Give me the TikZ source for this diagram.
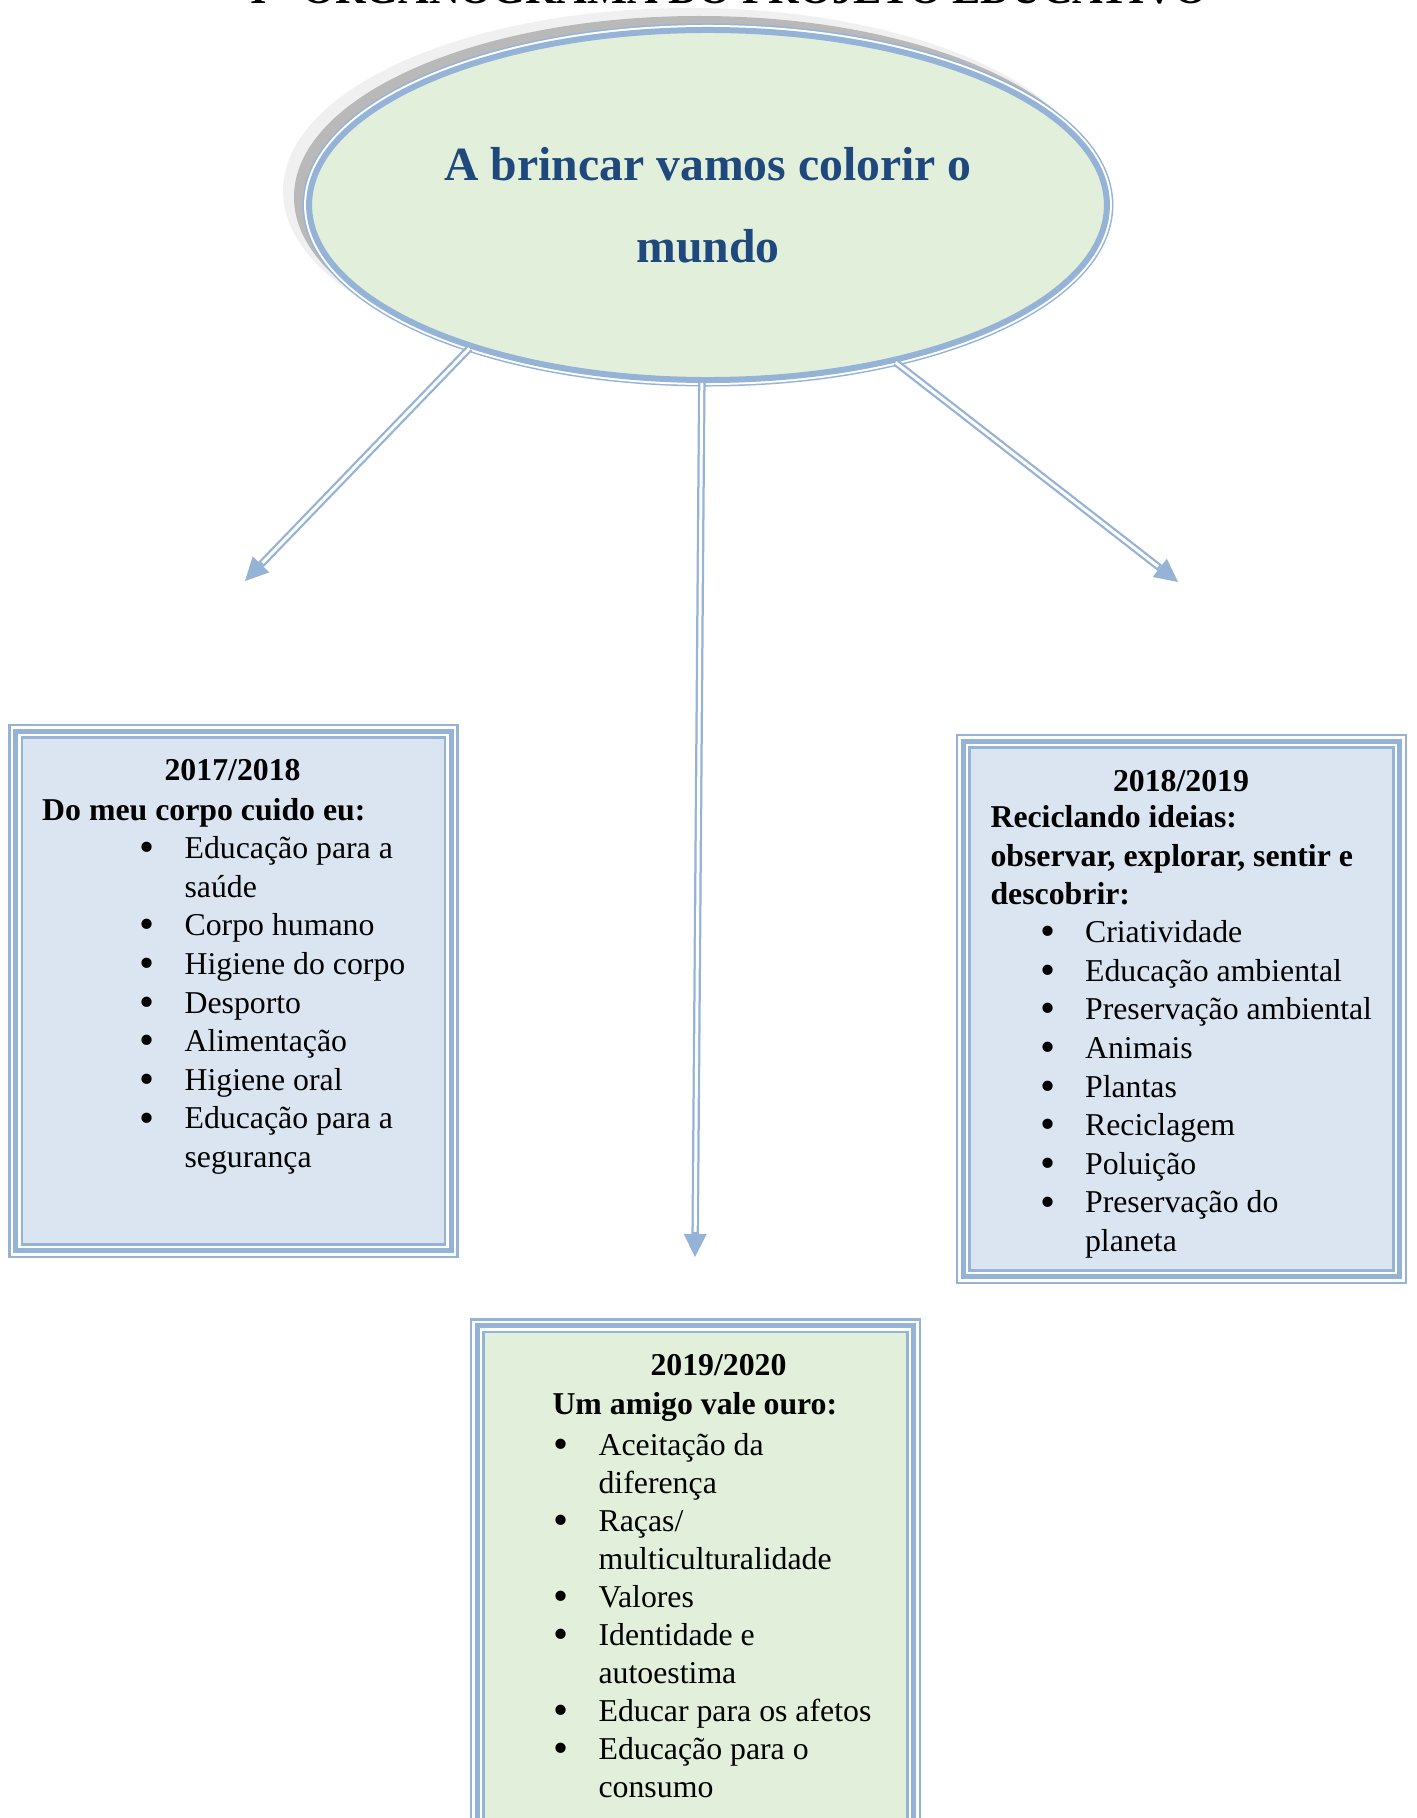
\documentclass[tikz,border=0pt]{standalone}
\usepackage{fontspec}
\setmainfont{Liberation Serif}
\usetikzlibrary{shapes,arrows.meta,positioning}
\definecolor{frameblue}{HTML}{95B3D7}
\definecolor{fillblue}{HTML}{DBE5F1}
\definecolor{fillgreen}{HTML}{E2EFDA}
\definecolor{titleblue}{HTML}{1F497D}
\newcommand{\itm}[1]{\makebox[17pt][l]{\smash{\raisebox{-1.2pt}{\scalebox{1.35}{\textbullet}}}}#1}
\newcommand{\cnt}{\hspace*{17pt}}

\begin{document}
\begin{tikzpicture}[x=0.3774pt, y=-0.3774pt,
  yearbox/.style={rectangle, inner sep=0pt, fill=#1, draw=frameblue, line width=5.66pt,
    postaction={draw=white, line width=3.77pt}, postaction={draw=frameblue, line width=1.89pt}},
  arr/.style={draw=frameblue, line width=2.83pt, -{Triangle[length=8.7pt, width=8.7pt, line width=0pt]},
    postaction={draw=white, line width=1.13pt, -, shorten >=9.5pt}},
  txt/.style={inner sep=0pt, font=\fontsize{12}{14.57}\selectfont, align=left, anchor=north west,
    execute at begin node=\strut}]
\tikzstyle{hd}=[inner sep=0pt, font=\fontsize{12}{14.57}\selectfont\bfseries, anchor=base]
\useasboundingbox (0,0) rectangle (1416,1818);
\clip (0,0) rectangle (1416,1818);

\node[font=\fontsize{16}{19}\selectfont\bfseries, anchor=base, inner sep=0pt] (titulo) at (729,4) {I - ORGANOGRAMA DO PROJETO EDUCATIVO};

\fill[gray!12] (690,191) ellipse [x radius=407, y radius=183];
\fill[gray!55] (699,197) ellipse [x radius=405, y radius=181];
\node[ellipse, minimum width=301.1pt, minimum height=132.1pt, fill=fillgreen, draw=frameblue, line width=2.26pt,
  preaction={draw=frameblue, line width=4.9pt}, preaction={draw=white, line width=3.77pt},
  text=titleblue, font=\fontsize{18}{30.9}\selectfont\bfseries, align=center] (ell) at (708,205)
  {A brincar vamos colorir o\\mundo};

\coordinate (cL) at (245,581);
\coordinate (cM) at (695,1257);
\coordinate (cR) at (1178,582);
\foreach \a/\c in {211.8/cL, 268.4/cM, 320/cR}{\draw[arr] (ell.\a) -- (\c);}

\node[yearbox=fillblue, minimum width=164.5pt, minimum height=195.9pt] (y1718) at (233.5,991) {};
\node[hd] (h1718) at (232.6,780) {2017/2018};
\node[txt, font=\fontsize{12}{14.57}\selectfont\bfseries] (t1718) at (41.7,793) {Do meu corpo cuido eu:};
\node[txt] (l1718) at (139,836) {\itm{Educação para a}\\\cnt saúde\\\itm{Corpo humano}\\\itm{Higiene do corpo}\\\itm{Desporto}\\\itm{Alimentação}\\\itm{Higiene oral}\\\itm{Educação para a}\\\cnt segurança};

\node[yearbox=fillblue, minimum width=164.7pt, minimum height=202.1pt] (y1819) at (1181.3,1008.8) {};
\node[hd] (h1819) at (1181,791) {2018/2019};
\node[txt, font=\fontsize{12}{14.57}\selectfont\bfseries] (t1819) at (990,805) {Reciclando ideias:\\observar, explorar, sentir e\\descobrir:};
\node[txt] (l1819) at (1039.5,920) {\itm{Criatividade}\\\itm{Educação ambiental}\\\itm{Preservação ambiental}\\\itm{Animais}\\\itm{Plantas}\\\itm{Reciclagem}\\\itm{Poluição}\\\itm{Preservação do}\\\cnt planeta};

\node[yearbox=fillgreen, minimum width=164.7pt, minimum height=190.4pt] (y1920) at (695.3,1577.8) {};
\node[hd] (h1920) at (718.5,1375.5) {2019/2020};
\node[txt, font=\fontsize{12}{14.57}\selectfont\bfseries] (t1920) at (552,1387) {Um amigo vale ouro:};
\node[txt, font=\fontsize{12}{14.34}\selectfont] (l1920) at (553,1433) {\itm{Aceitação da}\\\cnt diferença\\\itm{Raças/}\\\cnt multiculturalidade\\\itm{Valores}\\\itm{Identidade e}\\\cnt autoestima\\\itm{Educar para os afetos}\\\itm{Educação para o}\\\cnt consumo};
\end{tikzpicture}
\end{document}
